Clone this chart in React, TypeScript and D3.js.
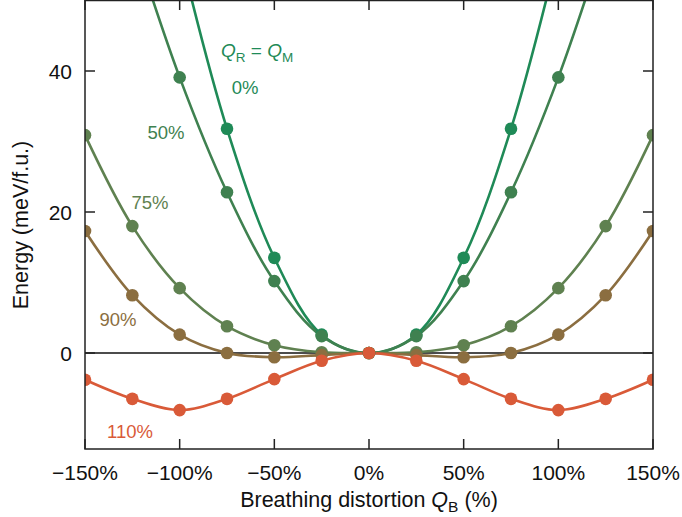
import React from "react";
import * as d3 from "d3";

const qValues = [-150, -125, -100, -75, -50, -25, 0, 25, 50, 75, 100, 125, 150];
// energies (meV/f.u.); null = not computed
const e0 = [null, null, 57, 31.8, 13.5, 2.6, 0, 2.6, 13.5, 31.8, 57, null, null];
const e50 = [null, 59, 39.1, 22.8, 10.2, 2.4, 0, 2.4, 10.2, 22.8, 39.1, 59, null];
const e75 = [30.9, 18.0, 9.2, 3.8, 1.1, 0.1, 0, 0.1, 1.1, 3.8, 9.2, 18.0, 30.9];
const e90 = [17.3, 8.2, 2.6, 0.0, -0.6, -0.3, 0, -0.3, -0.6, 0.0, 2.6, 8.2, 17.3];
const e110 = [-3.8, -6.5, -8.1, -6.5, -3.7, -1.1, 0, -1.1, -3.7, -6.5, -8.1, -6.5, -3.8];

const seriesNames = ["0%", "50%", "75%", "90%", "110%"];
const seriesColors = ["#1f8a57", "#3f8150", "#5f8150", "#8b6e40", "#d95a38"];
const seriesValues = [e0, e50, e75, e90, e110];

const xTicks = [-150, -100, -50, 0, 50, 100, 150];
const yTicks = [0, 20, 40];

const W = 682, H = 517;
const left = 85, right = 653, top = 0, bottom = 449;

export default function App() {
  const x = d3.scaleLinear().domain([-150, 150]).range([left, right]);
  const y = d3.scaleLinear().domain([0, 40]).range([353, 71]);
  const line = d3
    .line<[number, number]>()
    .x((d) => x(d[0]))
    .y((d) => y(d[1]))
    .curve(d3.curveCatmullRom.alpha(0.5));

  const font = "'Liberation Sans', Arial, Helvetica, sans-serif";
  const labels = [
    { x: 245, y: 94, text: "0%" },
    { x: 166, y: 139, text: "50%" },
    { x: 150, y: 209, text: "75%" },
    { x: 118, y: 326, text: "90%" },
    { x: 130, y: 438, text: "110%" },
  ];

  const pointsOf = (vals: (number | null)[]) =>
    qValues
      .map((q, j) => [q, vals[j]] as [number, number | null])
      .filter((d) => d[1] !== null) as [number, number][];

  return (
    <svg
      width={W}
      height={H}
      style={{ position: "absolute", left: 0, top: 0, background: "#fff" }}
      fontFamily={font}
    >
      <defs>
        <clipPath id="plot">
          <rect x={left} y={top} width={right - left} height={bottom - top} />
        </clipPath>
      </defs>
      {/* zero line */}
      <line x1={left} x2={right} y1={y(0)} y2={y(0)} stroke="#111" strokeWidth={1.4} />
      <g clipPath="url(#plot)">
        {seriesValues.map((vals, i) => (
          <path key={i} d={line(pointsOf(vals)) || ""} fill="none" stroke={seriesColors[i]} strokeWidth={2.6} />
        ))}
        {seriesValues.map((vals, i) => (
          <g key={"m" + i}>
            {pointsOf(vals).map((d, k) => (
              <circle key={k} cx={x(d[0])} cy={y(d[1])} r={6.3} fill={seriesColors[i]} />
            ))}
          </g>
        ))}
      </g>
      {/* frame */}
      <rect
        x={left}
        y={top + 0.5}
        width={right - left}
        height={bottom - top - 0.5}
        fill="none"
        stroke="#222"
        strokeWidth={1.5}
      />
      {xTicks.map((t) => (
        <g key={"xt" + t}>
          <line x1={x(t)} x2={x(t)} y1={bottom} y2={bottom - 10} stroke="#222" strokeWidth={1.5} />
          <line x1={x(t)} x2={x(t)} y1={top} y2={top + 10} stroke="#222" strokeWidth={1.5} />
          <text x={x(t)} y={480} textAnchor="middle" fontSize={21} fill="#111">
            {(t < 0 ? "\u2212" + Math.abs(t) : String(t)) + "%"}
          </text>
        </g>
      ))}
      {yTicks.map((t) => (
        <g key={"yt" + t}>
          <line x1={left} x2={left + 10} y1={y(t)} y2={y(t)} stroke="#222" strokeWidth={1.5} />
          <line x1={right} x2={right - 10} y1={y(t)} y2={y(t)} stroke="#222" strokeWidth={1.5} />
          <text x={72} y={y(t) + 7.5} textAnchor="end" fontSize={21} fill="#111">
            {t}
          </text>
        </g>
      ))}
      <text x={369} y={507} textAnchor="middle" fontSize={21.5} fill="#111">
        Breathing distortion <tspan fontStyle="italic">Q</tspan>
        <tspan fontSize={15.5} dy={5}>B</tspan>
        <tspan dy={-5}> (%)</tspan>
      </text>
      <text
        transform={`translate(28,225) rotate(-90)`}
        textAnchor="middle"
        fontSize={21.5}
        fill="#111"
      >
        Energy (meV/f.u.)
      </text>
      <text x={221} y={57} fontSize={19} fill={seriesColors[0]}>
        <tspan fontStyle="italic">Q</tspan>
        <tspan fontSize={13.5} dy={5}>R</tspan>
        <tspan dy={-5}> = </tspan>
        <tspan fontStyle="italic">Q</tspan>
        <tspan fontSize={13.5} dy={5}>M</tspan>
      </text>
      {labels.map((l, i) => (
        <text key={"l" + i} x={l.x} y={l.y} textAnchor="middle" fontSize={18.5} fill={seriesColors[i]}>
          {l.text}
        </text>
      ))}
    </svg>
  );
}
